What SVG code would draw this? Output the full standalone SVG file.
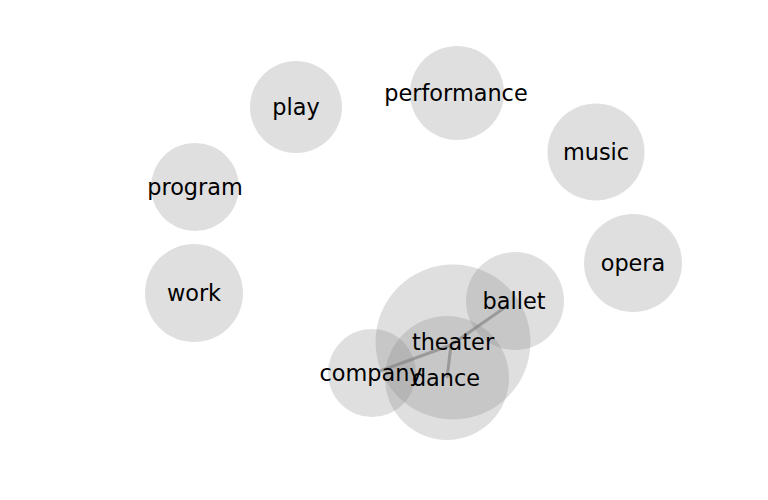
<svg xmlns="http://www.w3.org/2000/svg" width="768" height="500" viewBox="0 0 768 500">
<style>
.n circle{fill:#808080;fill-opacity:0.25}
.l text{font-family:"DejaVu Sans",sans-serif;font-size:22.4px;fill:#000;text-anchor:middle;dominant-baseline:central}
.e{stroke:#6e6e6e;stroke-opacity:0.55;stroke-width:3;fill:none}
</style>
<rect width="768" height="500" fill="#fff"/>
<g id="connectors">
<line class="e" x1="380" y1="371" x2="451" y2="345"/>
<line class="e" x1="451" y1="345" x2="507" y2="306"/>
<line class="e" x1="451" y1="345" x2="447" y2="378"/>
</g>
<g id="nodes" class="n">
<g id="play"><circle cx="296" cy="107" r="46"/></g>
<g id="performance"><circle cx="457" cy="93" r="47"/></g>
<g id="music"><circle cx="596" cy="152" r="48.5"/></g>
<g id="program"><circle cx="195" cy="187" r="44"/></g>
<g id="opera"><circle cx="633" cy="263" r="49"/></g>
<g id="work"><circle cx="194" cy="293" r="49"/></g>
<g id="theater"><circle cx="453" cy="342" r="77.5"/></g>
<g id="ballet"><circle cx="515" cy="301" r="49"/></g>
<g id="dance"><circle cx="447" cy="378" r="62"/></g>
<g id="company"><circle cx="372" cy="373" r="44"/></g>
</g>
<g id="labels" class="l">
<g id="play-label"><text x="296" y="107">play</text></g>
<g id="performance-label"><text x="456" y="93">performance</text></g>
<g id="music-label"><text x="596" y="152">music</text></g>
<g id="program-label"><text x="195" y="187">program</text></g>
<g id="opera-label"><text x="633" y="263">opera</text></g>
<g id="work-label"><text x="194" y="293">work</text></g>
<g id="theater-label"><text x="453" y="342">theater</text></g>
<g id="ballet-label"><text x="514" y="301">ballet</text></g>
<g id="dance-label"><text x="446" y="378">dance</text></g>
<g id="company-label"><text x="371" y="373">company</text></g>
</g>
</svg>
